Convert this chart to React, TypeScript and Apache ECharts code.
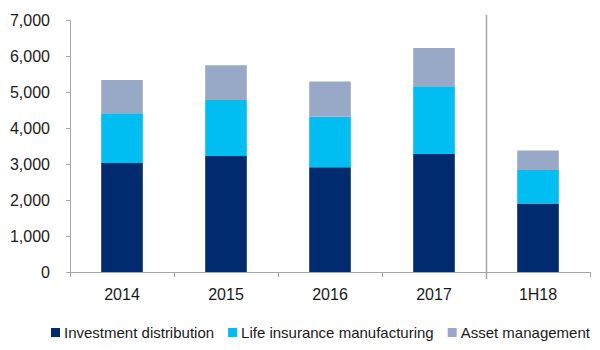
import React, { useEffect, useRef } from "react";
import * as echarts from "echarts";

const categories = ["2014", "2015", "2016", "2017", "1H18"];
const investmentDistribution = [3030, 3220, 2910, 3280, 1900];
const lifeInsuranceManufacturing = [1380, 1560, 1400, 1880, 935];
const assetManagement = [925, 965, 980, 1065, 540];
const seriesNames = ["Investment distribution", "Life insurance manufacturing", "Asset management"];
const colors = ["#002B6E", "#00BEF2", "#98A9C8"];

const FONT = "'Liberation Sans', Arial, sans-serif";

export default function App() {
  const ref = useRef<HTMLDivElement>(null);
  useEffect(() => {
    if (!ref.current) return;
    const chart = echarts.init(ref.current, null, { renderer: "svg" });
    const dataSets = [investmentDistribution, lifeInsuranceManufacturing, assetManagement];
    chart.setOption({
      animation: false,
      textStyle: { fontFamily: FONT },
      grid: { left: 70, right: 10, top: 20, bottom: 78, containLabel: false },
      legend: {
        left: 46,
        top: 320,
        itemWidth: 9,
        itemHeight: 9,
        itemGap: 14,
        icon: "rect",
        textStyle: { fontFamily: FONT, fontSize: 15, color: "#1a1a1a", padding: [0, 0, 0, -1] },
        data: seriesNames,
      },
      xAxis: {
        type: "category",
        data: categories,
        axisLine: { lineStyle: { color: "#A6A6A6", width: 1 } },
        axisTick: { show: true, length: 5, lineStyle: { color: "#A6A6A6" } },
        axisLabel: { color: "#1a1a1a", fontSize: 16, fontFamily: FONT, margin: 14 },
      },
      yAxis: {
        type: "value",
        min: 0,
        max: 7000,
        interval: 1000,
        splitLine: { show: false },
        axisLine: { show: true, lineStyle: { color: "#A6A6A6", width: 1 } },
        axisTick: { show: true, length: 4, lineStyle: { color: "#A6A6A6" } },
        axisLabel: {
          color: "#1a1a1a",
          fontSize: 16,
          fontFamily: FONT,
          margin: 20,
          formatter: (v: number) => v.toLocaleString("en-US"),
        },
      },
      series: seriesNames.map((name, i) => ({
        name,
        type: "bar",
        stack: "total",
        barWidth: "40%",
        itemStyle: { color: colors[i] },
        data: dataSets[i],
      })),
    });
    const c1 = chart.convertToPixel({ xAxisIndex: 0 }, "2017") as number;
    const c2 = chart.convertToPixel({ xAxisIndex: 0 }, "1H18") as number;
    const sepX = Math.round((c1 + c2) / 2) + 0.5;
    chart.setOption({
      graphic: [
        {
          type: "line",
          shape: { x1: sepX, y1: 15, x2: sepX, y2: 279 },
          style: { stroke: "#A6A6A6", lineWidth: 1.5 },
          silent: true,
        },
      ],
    });
    return () => chart.dispose();
  }, []);
  return <div ref={ref} style={{ width: 600, height: 350, position: "absolute", left: 0, top: 0 }} />;
}
